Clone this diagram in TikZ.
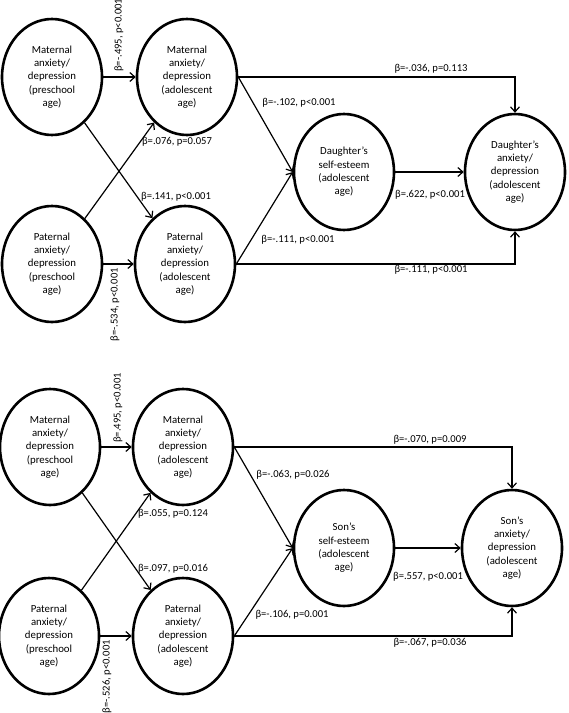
\documentclass[tikz,border=0pt]{standalone}
\usepackage{fontspec}
\setmainfont{Carlito}
\usetikzlibrary{shapes.geometric,arrows.meta}

\begin{document}
\begin{tikzpicture}[x=1pt,y=-1pt,
    factor/.style={ellipse,draw,line width=2.6pt,minimum width=100pt,minimum height=116pt,
      inner sep=0pt,align=center,font=\fontsize{10.8}{13.3}\selectfont},
    coef/.style={inner sep=0pt,font=\fontsize{10.6}{12}\selectfont},
    link/.style={line width=1.2pt,-{Straight Barb[length=5pt,width=9pt]}}]
    \useasboundingbox (0,0) rectangle (569,713);

    \node[factor] at (52,77) (MPre) {Maternal\\anxiety/\\depression\\(preschool\\age)};
    \node[factor] at (187,77) (MAdo) {Maternal\\anxiety/\\depression\\(adolescent\\age)};
    \node[factor] at (52,264) (PPre) {Paternal\\anxiety/\\depression\\(preschool\\age)};
    \node[factor] at (185,264) (PAdo) {Paternal\\anxiety/\\depression\\(adolescent\\age)};
    \node[factor] at (344,172) (DSe) {Daughter’s\\self-esteem\\(adolescent\\age)};
    \node[factor] at (515,172) (DAnx) {Daughter’s\\anxiety/\\depression\\(adolescent\\age)};

    \draw[link] (MPre) -- (MAdo);
    \draw[link] (PPre) -- (PAdo);
    \draw[link] (MPre) -- (PAdo);
    \draw[link] (PPre) -- (MAdo);
    \draw[link] (MAdo.east) -- (DSe.west);
    \draw[link] (PAdo.east) -- (DSe.west);
    \draw[link] (DSe) -- (DAnx);
    \draw[link] (MAdo.east) -| (DAnx.north);
    \draw[link] (PAdo.east) -| (DAnx.south);

    \node[coef,rotate=90,anchor=west] at (119,72) (dMM) {β=-.495, p<0.001};
    \node[coef] at (177,142) (dPM) {β=.076, p=0.057};
    \node[coef] at (176,197) (dMP) {β=.141, p<0.001};
    \node[coef,rotate=90,anchor=east] at (115,268) (dPP) {β=-.534, p<0.001};
    \node[coef] at (431,69) (dMA) {β=-.036, p=0.113};
    \node[coef] at (299,103) (dMS) {β=-.102, p<0.001};
    \node[coef] at (298,240) (dPS) {β=-.111, p<0.001};
    \node[coef] at (430,195) (dSA) {β=.622, p<0.001};
    \node[coef] at (431,270) (dPA) {β=-.111, p<0.001};

    \node[factor] at (50,447) (MPreS) {Maternal\\anxiety/\\depression\\(preschool\\age)};
    \node[factor] at (183,447) (MAdoS) {Maternal\\anxiety/\\depression\\(adolescent\\age)};
    \node[factor] at (49,636) (PPreS) {Paternal\\anxiety/\\depression\\(preschool\\age)};
    \node[factor] at (183,636) (PAdoS) {Paternal\\anxiety/\\depression\\(adolescent\\age)};
    \node[factor] at (344,548) (SSe) {Son’s\\self-esteem\\(adolescent\\age)};
    \node[factor] at (512,548) (SAnx) {Son’s\\anxiety/\\depression\\(adolescent\\age)};

    \draw[link] (MPreS) -- (MAdoS);
    \draw[link] (PPreS) -- (PAdoS);
    \draw[link] (MPreS) -- (PAdoS);
    \draw[link] (PPreS) -- (MAdoS);
    \draw[link] (MAdoS.east) -- (SSe.west);
    \draw[link] (PAdoS.east) -- (SSe.west);
    \draw[link] (SSe) -- (SAnx);
    \draw[link] (MAdoS.east) -| (SAnx.north);
    \draw[link] (PAdoS.east) -| (SAnx.south);

    \node[coef,rotate=90,anchor=west] at (118,443) (sMM) {β=.495, p<0.001};
    \node[coef] at (173,514) (sPM) {β=.055, p=0.124};
    \node[coef] at (173,569) (sMP) {β=.097, p=0.016};
    \node[coef,rotate=90,anchor=east] at (107,640) (sPP) {β=-.526, p<0.001};
    \node[coef] at (430,440) (sMA) {β=-.070, p=0.009};
    \node[coef] at (293,475) (sMS) {β=-.063, p=0.026};
    \node[coef] at (292,615) (sPS) {β=-.106, p=0.001};
    \node[coef] at (428,577) (sSA) {β=.557, p<0.001};
    \node[coef] at (430,643) (sPA) {β=-.067, p=0.036};
\end{tikzpicture}
\end{document}
